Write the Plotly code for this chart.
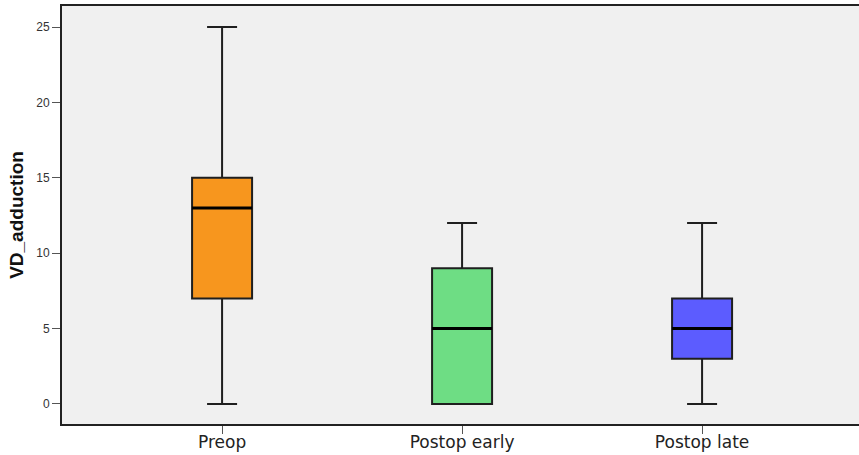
import plotly.graph_objects as go

categories = ["Preop", "Postop early", "Postop late"]
minimum = [0, 0, 0]
q1 = [7, 0, 3]
median = [13, 5, 5]
q3 = [15, 9, 7]
maximum = [25, 12, 12]
colors = ["#F7961E", "#6EDD84", "#5C5CFF"]
y_ticks = [0, 5, 10, 15, 20, 25]

fig = go.Figure()
half = 0.125
for i, cat in enumerate(categories):
    fig.add_trace(go.Box(
        x=[i], q1=[q1[i]], median=[median[i]], q3=[q3[i]],
        lowerfence=[minimum[i]], upperfence=[maximum[i]],
        fillcolor=colors[i], line=dict(color="#1f1f1f", width=2),
        width=0.25, whiskerwidth=0.5, showlegend=False, hoverinfo="skip",
    ))
    fig.add_trace(go.Scatter(
        x=[i - half, i + half], y=[median[i], median[i]], mode="lines",
        line=dict(color="black", width=3), showlegend=False, hoverinfo="skip",
    ))

fig.update_layout(
    width=859, height=455,
    margin=dict(l=62, r=0, t=6, b=31),
    paper_bgcolor="white", plot_bgcolor="#F0F0F0",
    font=dict(family="Arial, Liberation Sans, sans-serif", color="#222"),
)
fig.update_xaxes(
    range=[-0.667, -0.667 + 797 / 240], automargin=False,
    tickvals=list(range(len(categories))), ticktext=categories,
    showgrid=False, zeroline=False, showline=True, mirror=True,
    linecolor="#222", linewidth=2, ticks="outside", ticklen=8,
    tickcolor="#555", tickfont=dict(family="DejaVu Sans, sans-serif", size=17, color="#222"),
    ticklabelstandoff=-6,
)
fig.update_yaxes(
    range=[-1.33, 26.4], tickvals=y_ticks, automargin=False,
    showgrid=False, zeroline=False, showline=True,
    linecolor="#222", linewidth=2, ticks="outside", ticklen=8,
    tickcolor="#555", tickfont=dict(size=12, color="#333"),
    title=dict(text="<b>VD_adduction</b>", standoff=8,
               font=dict(family="Liberation Sans Narrow, Arial Narrow, sans-serif", size=19, color="#111")),
)
fig.write_html("out.html", config={"displayModeBar": False},
               post_script="document.body.style.margin='0';document.body.style.overflow='hidden';")
